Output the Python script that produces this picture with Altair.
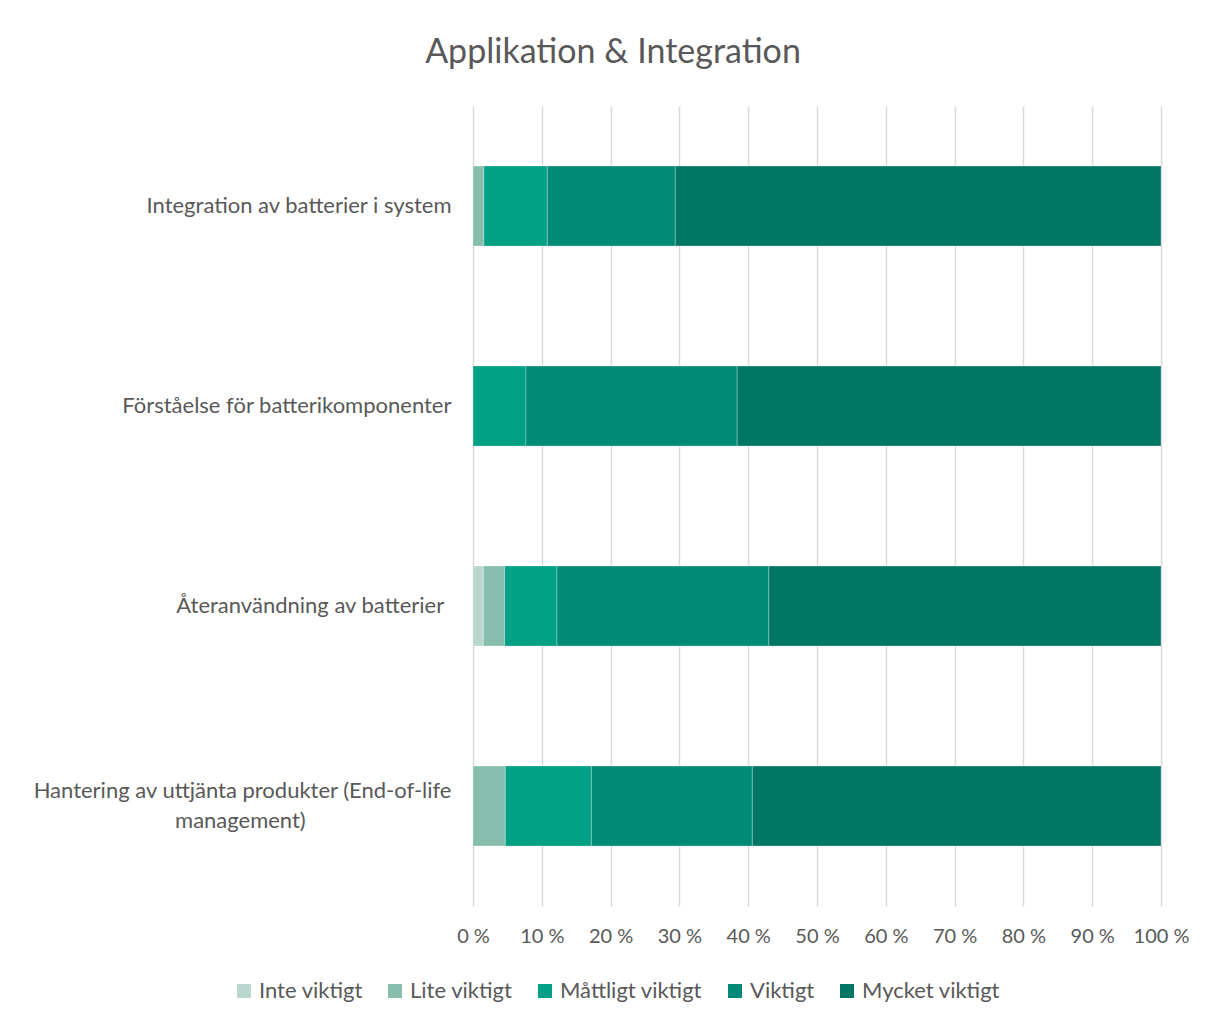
import altair as alt
import pandas as pd

categories = [
    "Integration av batterier i system",
    "Förståelse för batterikomponenter",
    "Återanvändning av batterier",
    "Hantering av uttjänta produkter (End-of-life management)",
]
levels = ["Inte viktigt", "Lite viktigt", "Måttligt viktigt", "Viktigt", "Mycket viktigt"]
colors = ["#B9D7CE", "#86BDAD", "#00A086", "#008B78", "#007764"]

inte_viktigt = [0.0, 0.0, 1.5, 0.0]
lite_viktigt = [1.6, 0.0, 3.1, 4.7]
mattligt_viktigt = [9.2, 7.7, 7.6, 12.5]
viktigt = [18.6, 30.7, 30.8, 23.4]
mycket_viktigt = [70.6, 61.6, 57.0, 59.4]

x_ticks = [0, 10, 20, 30, 40, 50, 60, 70, 80, 90, 100]

series = [inte_viktigt, lite_viktigt, mattligt_viktigt, viktigt, mycket_viktigt]
rows = []
for li, (lvl, vals) in enumerate(zip(levels, series)):
    for cat, v in zip(categories, vals):
        rows.append({"kategori": cat, "niva": lvl, "ordning": li, "varde": v})
df = pd.DataFrame(rows)

FONT = "Lato"
GREY = "#595959"
LONG = "Hantering av uttjänta produkter (End-of-life management)"

pad_long = "\u2003" * 8 + "\u2002" + "\u2009" + "\u200d"
pad_short = "\u2004" + "\u200d"
label_expr = (
    "datum.value == '" + LONG + "' ? "
    "['Hantering av uttjänta produkter (End-of-life', 'management)" + pad_long + "'] : "
    "datum.value == 'Återanvändning av batterier' ? 'Återanvändning av batterier" + pad_short + "' : "
    "datum.value"
)

chart = (
    alt.Chart(df)
    .mark_bar(stroke="#ffffff", strokeWidth=0.8, strokeOpacity=0.35)
    .encode(
        y=alt.Y(
            "kategori:N",
            sort=categories,
            scale=alt.Scale(paddingInner=0.6, paddingOuter=0.3),
            axis=alt.Axis(
                title=None,
                domain=False,
                ticks=False,
                grid=False,
                labelFont=FONT,
                labelFontSize=22,
                labelColor=GREY,
                labelPadding=22,
                labelLimit=700,
                labelLineHeight=30,
                labelExpr=label_expr,
                labelOffset={
                    "condition": {"test": "datum.value == '" + LONG + "'", "value": -15},
                    "value": 0,
                },
            ),
        ),
        x=alt.X(
            "varde:Q",
            stack="zero",
            scale=alt.Scale(domain=[0, 100], nice=False),
            axis=alt.Axis(
                title=None,
                values=x_ticks,
                labelExpr="datum.value + ' %'",
                domain=False,
                ticks=False,
                grid=True,
                gridColor="#D9D9D9",
                gridWidth=1.5,
                labelFont=FONT,
                labelFontSize=20,
                labelColor=GREY,
                labelPadding=20,
                labelOverlap=False,
                labelFlush=False,
            ),
        ),
        color=alt.Color(
            "niva:N",
            sort=levels,
            scale=alt.Scale(domain=levels, range=colors),
            legend=alt.Legend(
                title=None,
                orient="none",
                direction="horizontal",
                legendX=-240,
                legendY=874,
                symbolType="square",
                symbolSize=196,
                symbolStrokeWidth=0,
                labelFont=FONT,
                labelFontSize=22,
                labelColor=GREY,
                labelOffset=4,
                columnPadding=21,
                labelLimit=300,
            ),
        ),
        order=alt.Order("ordning:Q", sort="ascending"),
        tooltip=["kategori", "niva", "varde"],
    )
    .properties(
        width=688,
        height=800,
        background="#ffffff",
        autosize=alt.AutoSizeParams(type="none"),
        padding={"left": 465, "top": 98, "right": 48, "bottom": 100},
        title=alt.TitleParams(
            "Applikation & Integration",
            font=FONT,
            fontSize=34,
            fontWeight="normal",
            color=GREY,
            anchor="middle",
            dx=-204,
            offset=36,
        ),
    )
    .configure_view(strokeWidth=0, stroke="transparent")
)

chart.save("out.html", embed_options={"renderer": "svg", "actions": False})
